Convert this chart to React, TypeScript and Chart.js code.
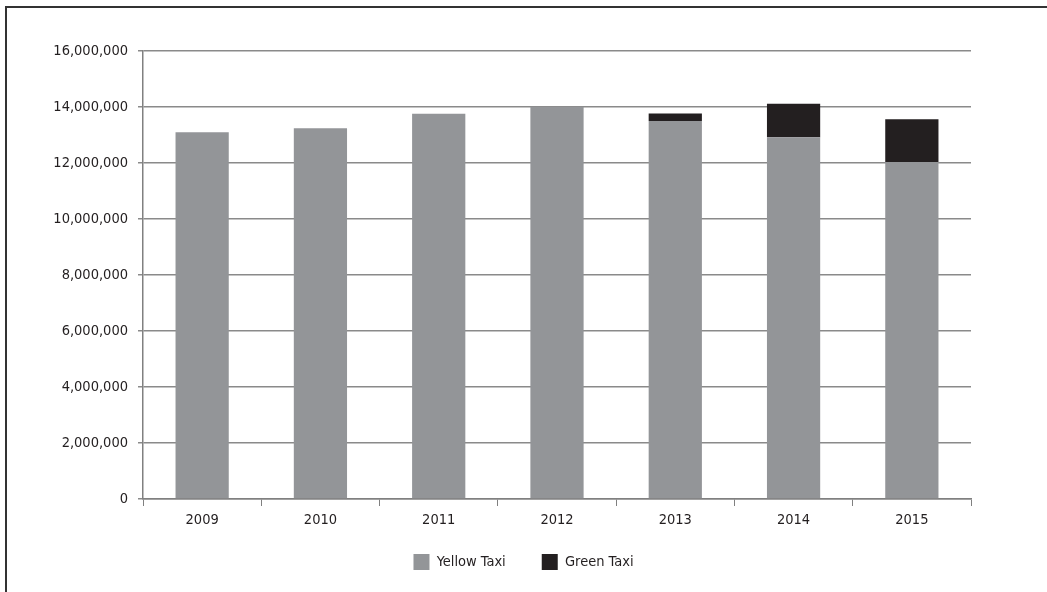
import React, { useEffect, useRef } from "react";
import { Chart, registerables } from "chart.js";

Chart.register(...registerables);

const years = ["2009", "2010", "2011", "2012", "2013", "2014", "2015"];
const yellowTaxi = [13100000, 13240000, 13760000, 14010000, 13500000, 12920000, 12040000];
const greenTaxi = [0, 0, 0, 0, 270000, 1200000, 1520000];
const yTickMax = 16000000;
const yTickStep = 2000000;

const FONT = "'Liberation Sans Narrow', 'DejaVu Sans Condensed', 'Roboto', sans-serif";
const FS = 14.5;

const legendPlacePlugin = {
  id: "legendPlace",
  beforeInit(chart: any) {
    const legend = chart.legend;
    if (!legend) return;
    const orig = legend.fit;
    legend.fit = function () {
      orig.call(this);
      this.height = 53;
    };
  },
  afterLayout(chart: any) {
    const legend = chart.legend;
    if (!legend) return;
    legend.top -= 21;
    legend.bottom -= 21;
    legend.left += 38;
    legend.right += 38;
  },
};

export default function App() {
  const ref = useRef<HTMLCanvasElement | null>(null);

  useEffect(() => {
    if (!ref.current) return;
    const chart = new Chart(ref.current, {
      type: "bar",
      data: {
        labels: years,
        datasets: [
          {
            label: "Yellow Taxi",
            data: yellowTaxi,
            backgroundColor: "#939598",
            borderColor: "#939598",
            borderWidth: 0,
          },
          {
            label: "Green Taxi",
            data: greenTaxi,
            backgroundColor: "#231f20",
            borderColor: "#231f20",
            borderWidth: 0,
          },
        ],
      },
      plugins: [legendPlacePlugin],
      options: {
        responsive: false,
        animation: false,
        layout: { padding: { left: 0, right: 76, top: 51, bottom: 0 } },
        datasets: { bar: { barPercentage: 0.45, categoryPercentage: 1 } },
        plugins: {
          tooltip: { enabled: false },
          legend: {
            position: "bottom",
            labels: {
              font: { family: FONT, size: FS },
              color: "#231f20",
              boxWidth: 16,
              boxHeight: 16,
              padding: 36,
              generateLabels: (c: any) =>
                c.data.datasets.map((d: any, i: number) => ({
                  text: d.label,
                  fillStyle: d.backgroundColor,
                  strokeStyle: d.backgroundColor,
                  lineWidth: 0,
                  datasetIndex: i,
                  hidden: false,
                  fontColor: "#231f20",
                })),
            },
          },
        },
        scales: {
          x: {
            stacked: true,
            offset: true,
            grid: {
              offset: true,
              drawOnChartArea: false,
              drawTicks: true,
              tickLength: 7,
              color: "#808080",
              lineWidth: 1,
            },
            border: { display: true, color: "#808080", width: 1.5 },
            ticks: { font: { family: FONT, size: FS }, color: "#231f20", padding: 6 },
            afterFit: (s: any) => {
              s.height = 40;
            },
          },
          y: {
            stacked: true,
            min: 0,
            max: yTickMax,
            grid: {
              color: "#8a8a8a",
              lineWidth: 1.5,
              drawTicks: true,
              tickLength: 5,
            },
            border: { display: true, color: "#808080", width: 1.5 },
            ticks: {
              stepSize: yTickStep,
              font: { family: FONT, size: FS },
              color: "#231f20",
              padding: 10,
              callback: (v: any) => Number(v).toLocaleString("en-US"),
            },
            afterFit: (s: any) => {
              s.width = 143;
            },
          },
        },
      },
    });
    return () => chart.destroy();
  }, []);

  return (
    <div
      style={{
        position: "fixed",
        left: 0,
        top: 0,
        width: 1047,
        height: 592,
        overflow: "hidden",
        background: "#fff",
      }}
    >
      <div
        style={{
          position: "absolute",
          left: 5,
          top: 6,
          width: 1200,
          height: 800,
          borderLeft: "2px solid #333",
          borderTop: "2px solid #333",
        }}
      />
      <canvas
        ref={ref}
        width={1047}
        height={592}
        style={{ position: "absolute", left: 0, top: 0 }}
      />
    </div>
  );
}
